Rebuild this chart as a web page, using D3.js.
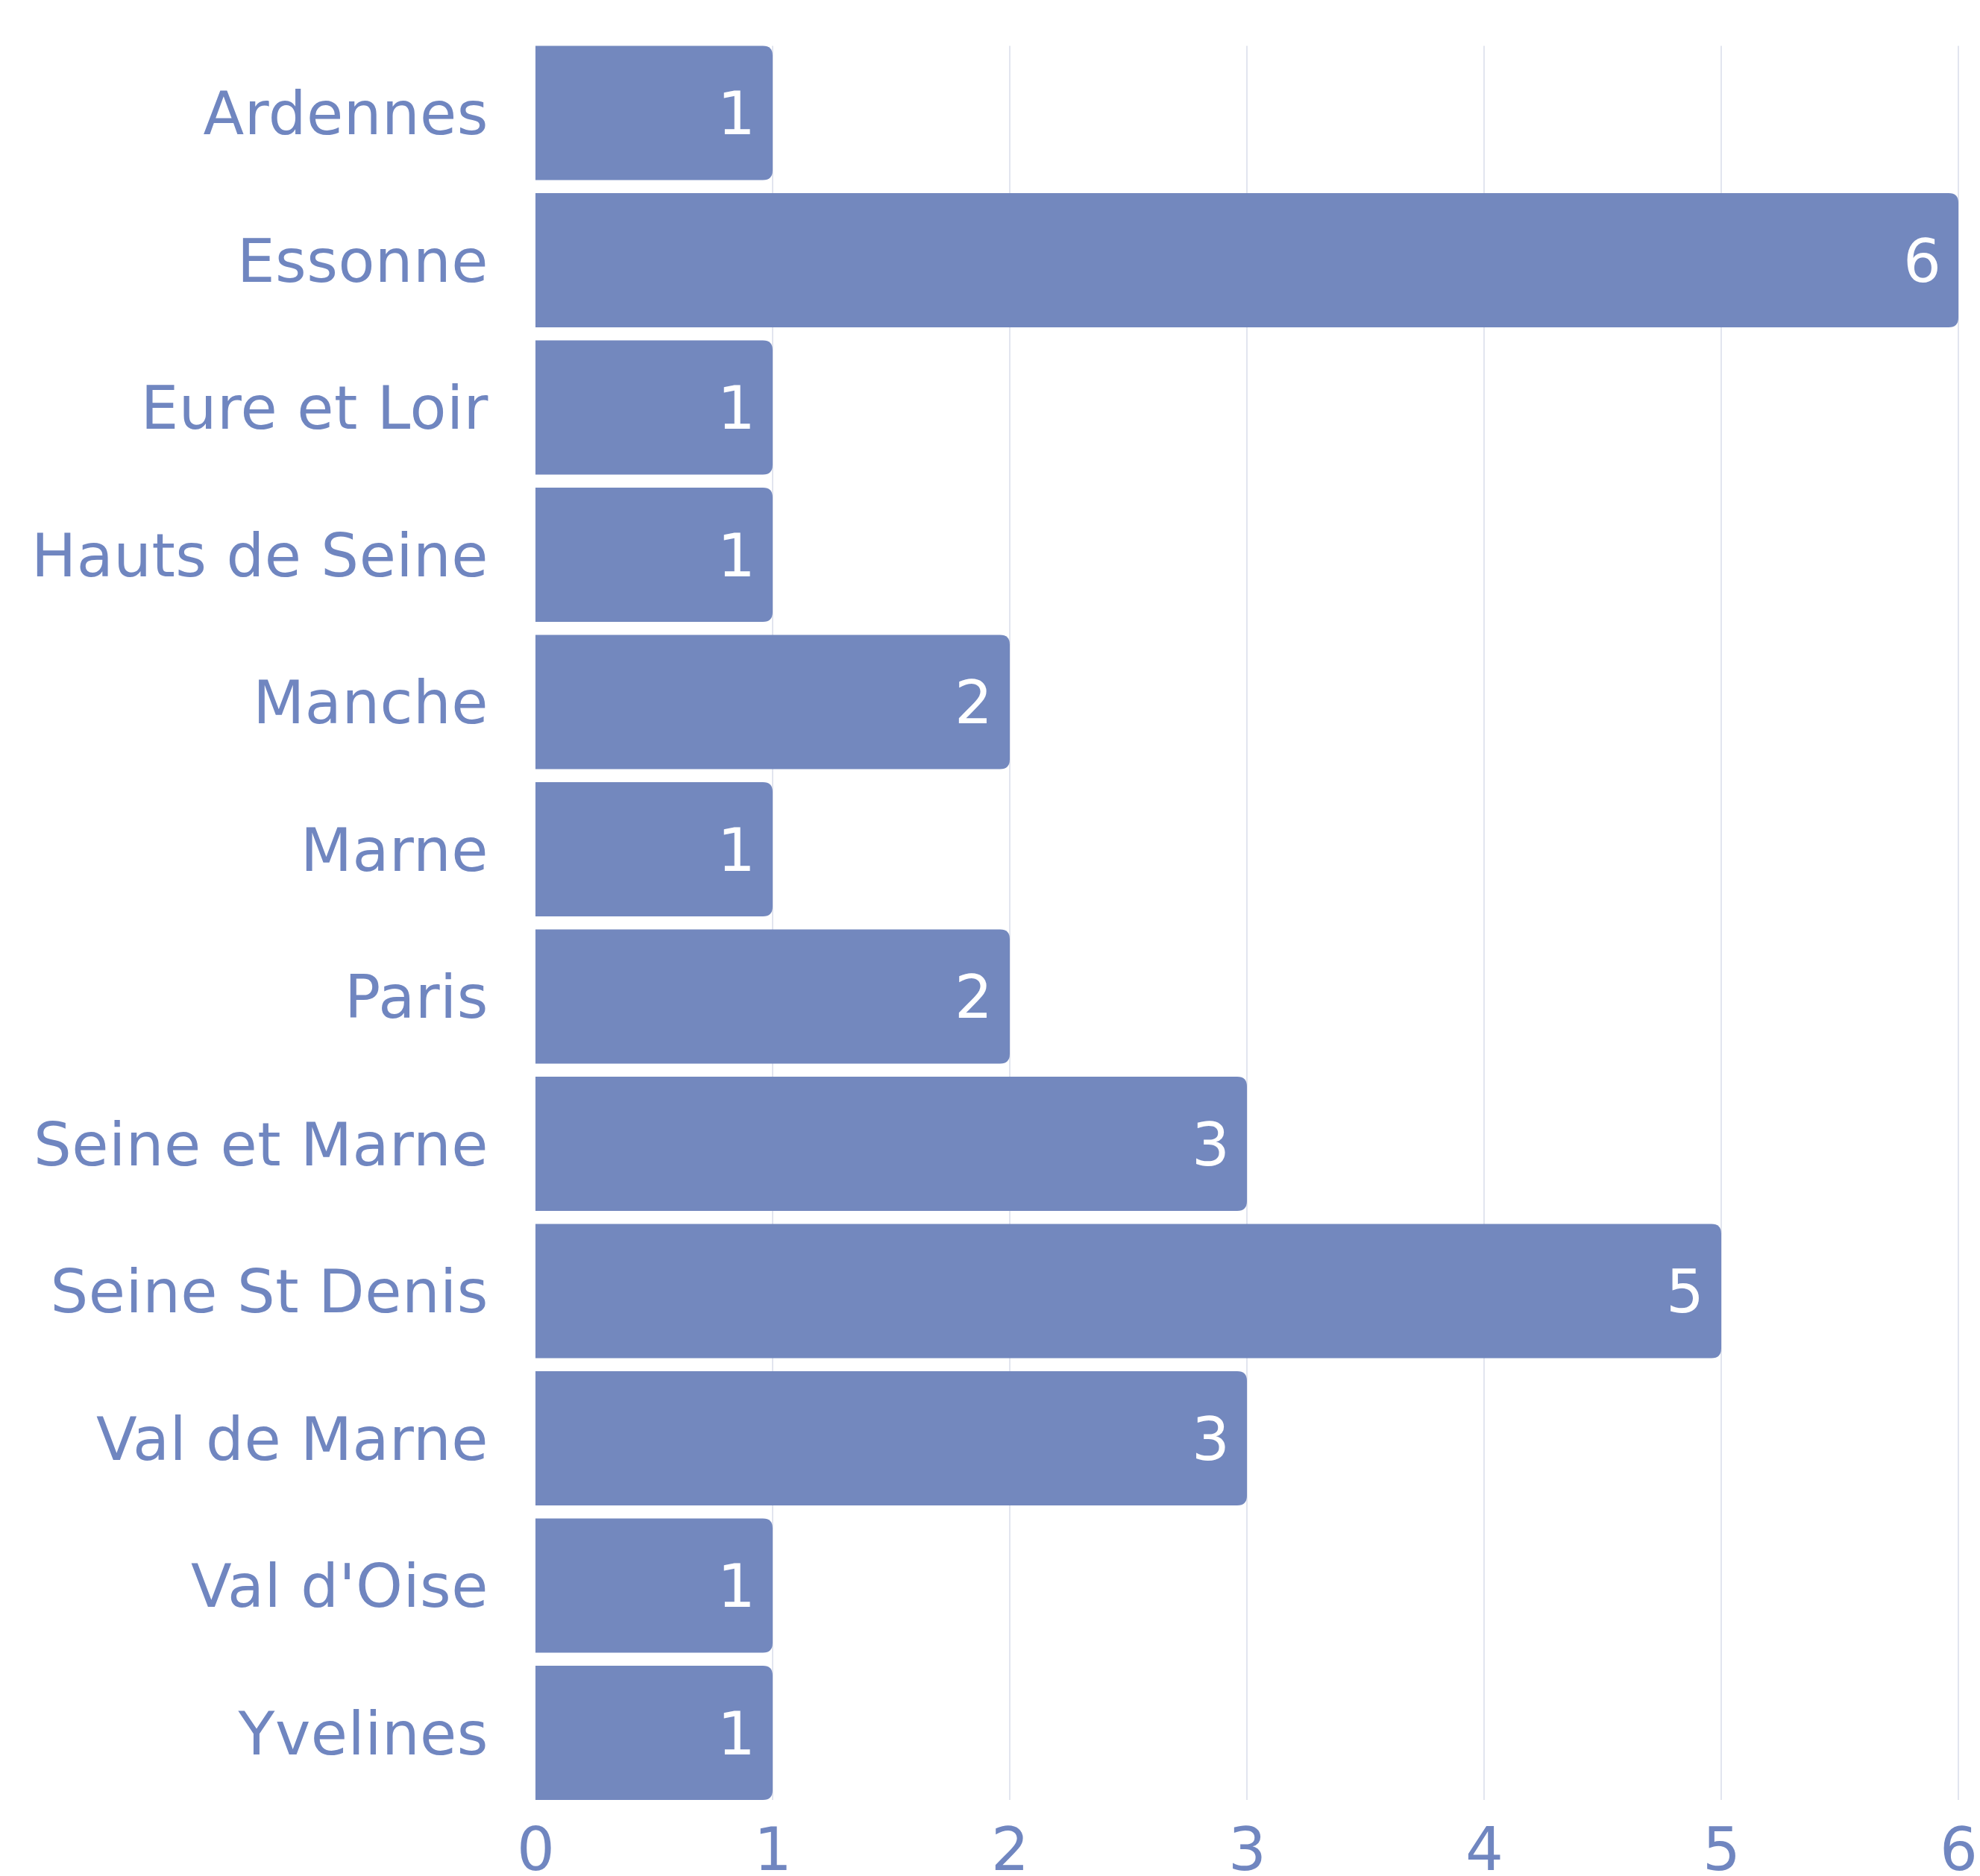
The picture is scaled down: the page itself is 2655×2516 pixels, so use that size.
<!DOCTYPE html>
<html>
<head>
<meta charset="utf-8">
<script src="https://cdn.jsdelivr.net/npm/d3@7"></script>
<style>
  body { margin: 0; background: #fff; }
  svg text { font-family: "DejaVu Sans", "Noto Sans", sans-serif; }
</style>
</head>
<body>
<svg id="chart" width="2655" height="2516"></svg>
<script>
// departments and counts
const departments = [
  "Ardennes", "Essonne", "Eure et Loir", "Hauts de Seine", "Manche", "Marne",
  "Paris", "Seine et Marne", "Seine St Denis", "Val de Marne", "Val d'Oise", "Yvelines"
];
const counts = [1, 6, 1, 1, 2, 1, 2, 3, 5, 3, 1, 1];
const xTicks = [0, 1, 2, 3, 4, 5, 6];

const barColor = "#7388be";
const textColor = "#7086c0";
const gridColor = "#e2e5ef";

const svg = d3.select("#chart");
const margin = { top: 61.5, left: 718, right: 29, bottom: 102 };
const width = 2655, height = 2516;

const data = departments.map((d, i) => ({ name: d, value: counts[i] }));

const x = d3.scaleLinear()
  .domain([0, 6])
  .range([margin.left, width - margin.right]);

const y = d3.scaleBand()
  .domain(departments)
  .range([margin.top, height - margin.bottom])
  .paddingInner(0.089)
  .paddingOuter(0);

// --- grid lines ---
svg.append("g")
  .selectAll("line")
  .data(xTicks.slice(1))
  .enter()
  .append("line")
  .attr("x1", (d) => x(d))
  .attr("x2", (d) => x(d))
  .attr("y1", margin.top)
  .attr("y2", height - margin.bottom)
  .attr("stroke", gridColor)
  .attr("stroke-width", 2);

// bars, rounded only on the right end
function barPath(d) {
  const x0 = x(0), x1 = x(d.value);
  const y0 = y(d.name), h = y.bandwidth();
  const r = Math.min(13, (x1 - x0) / 2);
  return `M${x0},${y0}H${x1 - r}Q${x1},${y0} ${x1},${y0 + r}` +
    `V${y0 + h - r}Q${x1},${y0 + h} ${x1 - r},${y0 + h}H${x0}Z`;
}

svg.append("g")
  .selectAll("path")
  .data(data)
  .enter()
  .append("path")
  .attr("d", barPath)
  .attr("fill", barColor);

// value labels inside bars
svg.append("g")
  .selectAll("text")
  .data(data)
  .enter()
  .append("text")
  .attr("x", (d) => x(d.value) - 23)
  .attr("y", (d) => y(d.name) + y.bandwidth() / 2)
  .attr("dy", "0.36em")
  .attr("text-anchor", "end")
  .attr("fill", "#fff")
  .attr("font-size", 80)
  .text((d) => d.value);

// category labels
const yAxis = d3.axisLeft(y).tickSize(0).tickPadding(63);
svg.append("g")
  .attr("transform", `translate(${margin.left},0)`)
  .call(yAxis)
  .call((g) => g.select(".domain").remove())
  .call((g) => g.selectAll("text")
    .attr("fill", textColor)
    .attr("font-size", 80)
    .attr("letter-spacing", 0.5)
    .attr("dy", "0.36em"));

// x axis tick labels
const xAxis = d3.axisBottom(x).tickValues(xTicks).tickSize(0).tickPadding(0)
  .tickFormat(d3.format("d"));
svg.append("g")
  .attr("transform", `translate(0,${height - margin.bottom})`)
  .call(xAxis)
  .call((g) => g.select(".domain").remove())
  .call((g) => g.selectAll("text")
    .attr("fill", textColor)
    .attr("font-size", 80)
    .attr("y", 94)
    .attr("dy", 0));
</script>
</body>
</html>
